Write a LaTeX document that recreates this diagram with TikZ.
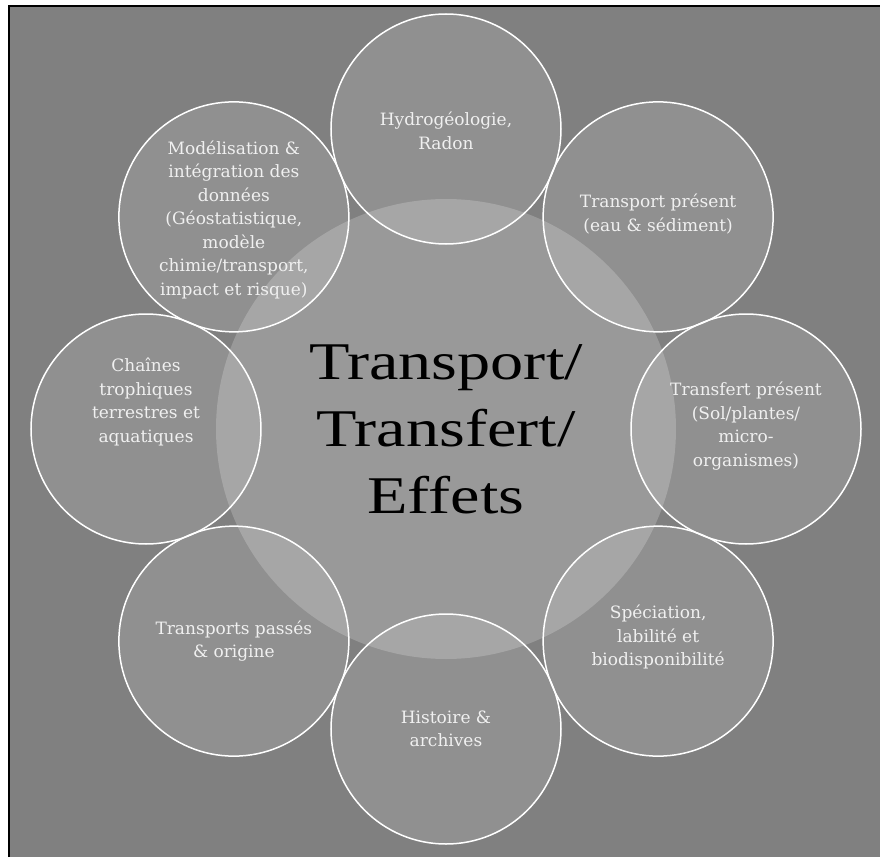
\documentclass[tikz,border=0pt]{standalone}
\usepackage{fontspec}
\setmainfont{DejaVu Serif}
\newfontfamily\grandefonte[FakeStretch=1.25]{Liberation Serif}
\definecolor{fondgris}{gray}{0.5}
\tikzset{
  theme/.style={circle, draw=white, line width=1.5pt, fill=white, fill opacity=.13,
    minimum size=230pt, inner sep=0pt},
  themetexte/.style={align=center, text=white!94!black, font=\fontsize{17}{23.5}\selectfont},
  noyau/.style={circle, fill=white, fill opacity=.2, text opacity=1, minimum size=460pt,
    inner sep=0pt, align=center, font=\grandefonte\fontsize{53}{67}\selectfont}
}
\begin{document}
\begin{tikzpicture}[x=1pt, y=1pt]
\useasboundingbox (-446,-428) rectangle (434,429);
\fill[white] (-446,-428) rectangle (434,429);
\fill[fondgris] (-436,-428) rectangle (434,422);
\draw[line width=2pt] (-437,-428)--(-437,423)--(434,423);
\node[noyau] (centre) at (0,0) {Transport/\\Transfert/\\Effets};
% les huit themes autour du noyau
\foreach \i/\nom/\dy/\texte in {0/hydro/-2/{Hydrogéologie,\\Radon},
    1/transport/3/{Transport présent\\(eau \& sédiment)},
    2/transfert/3/{Transfert présent\\(Sol/plantes/\\micro-\\organismes)},
    3/speciation/4/{Spéciation,\\labilité et\\biodisponibilité},
    4/histoire/0/{Histoire \&\\archives},
    5/passes/0/{Transports passés\\\& origine},
    6/chaines/27/{Chaînes\\trophiques\\terrestres et\\aquatiques},
    7/modele/-3/{Modélisation \&\\intégration des\\données\\(Géostatistique,\\modèle\\chimie/transport,\\impact et risque)}}
{
    \node[theme] (\nom) at (90-45*\i:300) {};
    \node[themetexte] (\nom-texte) at ([yshift=\dy pt]\nom.center) {\texte};
}
\end{tikzpicture}
\end{document}
